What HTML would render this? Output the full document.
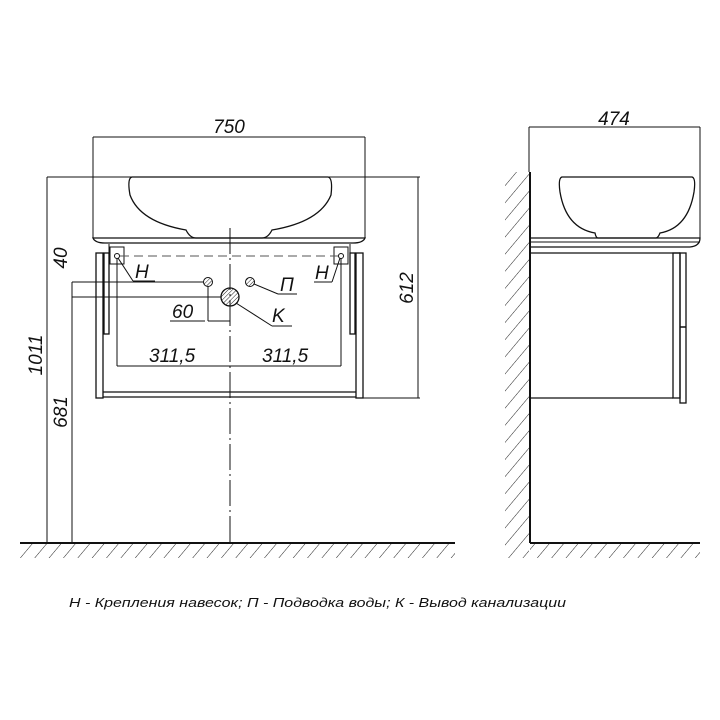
<!DOCTYPE html>
<html><head><meta charset="utf-8"><style>
html,body{margin:0;padding:0;background:#fff;}
svg{display:block}
text{font-family:"Liberation Sans","DejaVu Sans",sans-serif;font-style:italic;fill:#111;}
</style></head><body>
<svg width="720" height="720" viewBox="0 0 720 720" xmlns="http://www.w3.org/2000/svg">
<defs>
<pattern id="hatch" width="11" height="11" patternUnits="userSpaceOnUse" patternTransform="rotate(40)">
<line x1="0" y1="0" x2="0" y2="11" stroke="#222" stroke-width="1"/>
</pattern>
<pattern id="hh" width="3" height="3" patternUnits="userSpaceOnUse" patternTransform="rotate(45)">
<line x1="0" y1="0" x2="0" y2="3" stroke="#222" stroke-width="1"/>
</pattern>
</defs>
<g stroke="#111" fill="none" stroke-width="1">
<line x1="93" y1="137" x2="365" y2="137"/>
<line x1="93" y1="137" x2="93" y2="238"/>
<line x1="365" y1="137" x2="365" y2="238"/>
<path d="M93 238 Q95 243 105 243 L353 243 Q363 243 365 238 Z" stroke-width="1.3"/>
<path d="M132 177 L328 177 Q333 178 331 195 Q320 222 272 230 Q268 238 262 238 L196 238 Q190 238 186 230 Q140 222 130 195 Q127 178 132 177 Z" stroke-width="1.3"/>
<line x1="47" y1="177" x2="420" y2="177"/>
<rect x="96" y="253" width="7" height="145" stroke-width="1.3"/>
<rect x="104" y="253" width="5" height="81" stroke-width="1.3"/>
<rect x="356" y="253" width="7" height="145" stroke-width="1.3"/>
<rect x="350" y="253" width="5" height="81" stroke-width="1.3"/>
<line x1="103" y1="392" x2="356" y2="392" stroke-width="1.3"/>
<line x1="103" y1="397" x2="356" y2="397" stroke-width="1.3"/>
<line x1="109" y1="244" x2="109" y2="253"/>
<line x1="350" y1="244" x2="350" y2="253"/>
<rect x="110" y="247" width="14" height="17"/>
<rect x="334" y="247" width="14" height="17"/>
<circle cx="117" cy="256" r="2.5"/>
<circle cx="341" cy="256" r="2.5"/>
<line x1="120" y1="256" x2="338" y2="256" stroke-dasharray="9,5" stroke="#555"/>
<line x1="118" y1="258" x2="133" y2="281"/>
<line x1="133" y1="281" x2="155" y2="281"/>
<line x1="340" y1="258" x2="332" y2="282"/>
<line x1="314" y1="282" x2="332" y2="282"/>
<line x1="230" y1="228" x2="230" y2="543" stroke-dasharray="26,4,2,4"/>
<circle cx="208" cy="282" r="4.5" fill="url(#hh)"/>
<circle cx="250" cy="282" r="4.5" fill="url(#hh)"/>
<circle cx="230" cy="297" r="9" fill="url(#hh)" stroke-width="1.3"/>
<line x1="254" y1="284" x2="278" y2="294"/>
<line x1="278" y1="294" x2="297" y2="294"/>
<line x1="236" y1="303" x2="272" y2="326"/>
<line x1="272" y1="326" x2="292" y2="326"/>
<line x1="72" y1="282" x2="204" y2="282"/>
<line x1="72" y1="297" x2="221" y2="297"/>
<line x1="72" y1="282" x2="72" y2="543"/>
<line x1="47" y1="177" x2="47" y2="543"/>
<line x1="208" y1="286" x2="208" y2="321"/>
<line x1="208" y1="321" x2="230" y2="321"/>
<line x1="170" y1="321" x2="205" y2="321"/>
<line x1="117" y1="258" x2="117" y2="366"/>
<line x1="341" y1="258" x2="341" y2="366"/>
<line x1="117" y1="366" x2="341" y2="366"/>
<line x1="418" y1="177" x2="418" y2="398"/>
<line x1="363" y1="398" x2="420" y2="398"/>
<line x1="20" y1="543" x2="455" y2="543" stroke-width="2"/>
<rect x="20" y="544" width="435" height="14" fill="url(#hatch)" stroke="none"/>
<line x1="529" y1="127" x2="700" y2="127"/>
<line x1="529" y1="127" x2="529" y2="172"/>
<line x1="700" y1="127" x2="700" y2="240"/>
<line x1="530" y1="172" x2="530" y2="543" stroke-width="2"/>
<rect x="505" y="172" width="24" height="386" fill="url(#hatch)" stroke="none"/>
<line x1="530" y1="543" x2="700" y2="543" stroke-width="2"/>
<rect x="530" y="544" width="170" height="14" fill="url(#hatch)" stroke="none"/>
<path d="M562 177 L692 177 Q696 178 694 192 Q688 228 660 233 Q658 238 656 238 L598 238 Q596 238 595 233 Q566 228 560 192 Q558 178 562 177 Z" stroke-width="1.3"/>
<path d="M530 238 L700 238 Q700 246 690 247 L530 247" stroke-width="1.3"/>
<line x1="530" y1="242" x2="700" y2="242"/>
<line x1="530" y1="253" x2="680" y2="253" stroke-width="1.3"/>
<line x1="530" y1="398" x2="673" y2="398" stroke-width="1.3"/>
<rect x="673" y="253" width="7" height="145" stroke-width="1.3"/>
<rect x="680" y="253" width="6" height="150" stroke-width="1.3"/>
<line x1="680" y1="327" x2="686" y2="327" stroke-width="1.5"/>
</g>
<g font-size="19">
<text x="229" y="133" text-anchor="middle">750</text>
<text x="614" y="125" text-anchor="middle">474</text>
<text x="135" y="278">H</text>
<text x="315" y="279">H</text>
<text x="280" y="291">П</text>
<text x="272" y="322">K</text>
<text x="172" y="318">60</text>
<text x="149" y="362">311,5</text>
<text x="262" y="362">311,5</text>
<text transform="translate(67,258) rotate(-90)" text-anchor="middle">40</text>
<text transform="translate(413,288) rotate(-90)" text-anchor="middle">612</text>
<text transform="translate(42,355) rotate(-90)" text-anchor="middle">1011</text>
<text transform="translate(67,412) rotate(-90)" text-anchor="middle">681</text>
</g>
<text x="69" y="607" font-size="13" textLength="497" lengthAdjust="spacingAndGlyphs">Н - Крепления навесок; П - Подводка воды; К - Вывод канализации</text>
</svg>
</body></html>
